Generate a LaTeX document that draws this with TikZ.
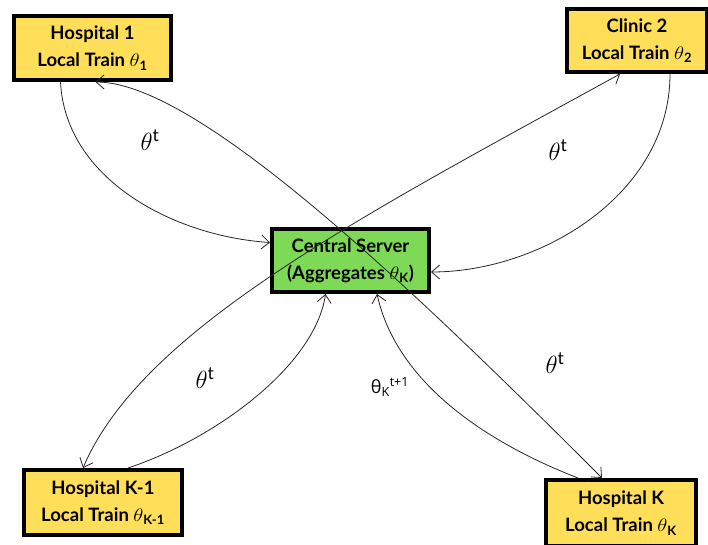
\documentclass[tikz,border=0pt]{standalone}
\usepackage{amsmath}
\usepackage{fontspec}
\setmainfont{Lato}
\newfontfamily\labelfont{Open Sans}
\usetikzlibrary{arrows.meta}
\definecolor{boxyellow}{HTML}{FFDE59}
\definecolor{boxgreen}{HTML}{7ED957}
\newcommand{\bigtheta}{\scalebox{1.2}[1.05]{$\theta$}}

\begin{document}
\begin{tikzpicture}[x=1pt,y=-1pt,
  site/.style={draw=black,line width=4pt,fill=boxyellow,align=center,inner sep=0pt,
    font=\bfseries\fontsize{18.5}{27}\selectfont},
  server/.style={site,fill=boxgreen},
  link/.style={line width=0.8pt,draw=black!85,-{Straight Barb[length=8pt,width=14pt]}},
  twoway/.style={link,{Straight Barb[length=8pt,width=14pt]}-{Straight Barb[length=8pt,width=14pt]}},
  param/.style={font=\fontsize{25}{30}\selectfont}]

\useasboundingbox (0,0) rectangle (708,545);

\node[site,minimum width=157pt,minimum height=64pt] (h1) at (92.5,48) {Hospital 1\\Local Train \bigtheta$_{\text{1}}$};
\node[site,minimum width=140pt,minimum height=63pt] (c2) at (637,40.5) {Clinic 2\\Local Train \bigtheta$_{\text{2}}$};
\node[server,minimum width=157pt,minimum height=63pt] (cs) at (350.5,260.5) {Central Server\\(Aggregates \bigtheta$_{\text{K}}$)};
\node[site,minimum width=158pt,minimum height=65pt] (hk1) at (103,502.5) {Hospital K-1\\Local Train \bigtheta$_{\text{K-1}}$};
\node[site,minimum width=150pt,minimum height=66pt] (hk) at (621,513) {Hospital K\\Local Train \bigtheta$_{\text{K}}$};

\draw[link] ([xshift=-32pt]h1.south) .. controls +(5,98) and +(-95,-6) .. ([yshift=18pt]cs.west);
\draw[twoway] ([xshift=3pt]h1.south) .. controls +(100,0) and +(-200,-200) .. ([xshift=-19pt]hk.north);
\draw[twoway] ([xshift=-17pt]c2.south) .. controls +(-264,145) and +(59,-138) .. ([xshift=-20pt]hk1.north);
\draw[link] ([xshift=25pt]hk1.north) .. controls +(90,-30) and +(-10,70) .. ([xshift=-25pt]cs.south);
\draw[link] ([xshift=33pt]c2.south) .. controls +(0,120) and +(110,0) .. ([yshift=-11.5pt]cs.east);
\draw[link] ([xshift=-43pt]hk.north) .. controls +(-90,-35) and +(20,90) .. ([xshift=26.5pt]cs.south);

\node[param] (t1) at (150,140) {$\theta^{\text{t}}$};
\node[param] (t2) at (558,150) {$\theta^{\text{t}}$};
\node[param] (t3) at (205,378) {$\theta^{\text{t}}$};
\node[param] (t4) at (555,363) {$\theta^{\text{t}}$};
\node[font=\labelfont\fontsize{18}{20}\selectfont] (tk) at (390,387) {θ\textsubscript{K}\textsuperscript{t+1}};

\end{tikzpicture}
\end{document}
